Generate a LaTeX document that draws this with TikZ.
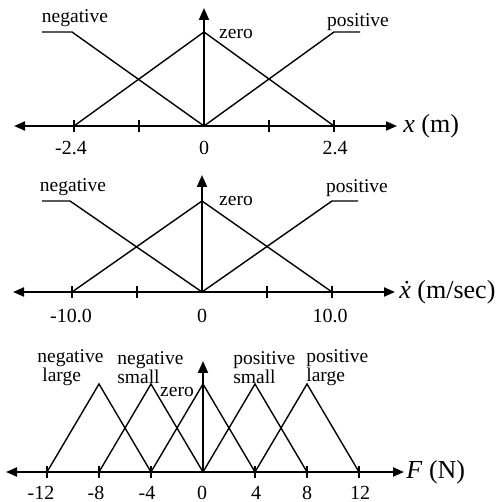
\documentclass[tikz,border=0pt]{standalone}
\usepackage{fontspec}
\setmainfont{Liberation Serif}
\usepackage{tikz}
\usetikzlibrary{arrows.meta}
\tikzset{  mf/.style={line width=0.7pt},
  axisline/.style={line width=1pt,{Triangle[length=5.5pt,width=4.5pt]}-{Triangle[length=5.5pt,width=4.5pt]}},
  upaxis/.style={line width=1pt,-{Triangle[length=6pt,width=5pt]}},
  tickmark/.style={line width=0.7pt},
  setname/.style={inner sep=0pt,font=\fontsize{9.75}{9.5}\selectfont},
  num/.style={inner sep=0pt,font=\fontsize{10}{12}\selectfont},
  axlabel/.style={inner sep=0pt,anchor=west,font=\fontsize{13}{15}\selectfont} }

\begin{document}
\begin{tikzpicture}[x=0.5pt,y=0.5pt]
  \useasboundingbox (0,0) rectangle (501,502);
  \begin{scope}[shift={(204,376)}]
   \draw[axisline] (-190,0) -- (193,0);
   \draw[tickmark] (-130,-6) -- (-130,6) (-65,-6) -- (-65,6) (65,-6) -- (65,6) (130,-6) -- (130,6);
   \draw[upaxis] (0,0) -- (0,118);
   \draw[mf] (-162,94) -- (-132,94) -- (0,0);
   \draw[mf] (-130,0) -- (0,94) -- (130,0);
   \draw[mf] (0,0) -- (130,94) -- (156,94);
   \node[setname] (neg1) at (-129,108) {negative};
   \node[setname] (zero1) at (32,92) {zero};
   \node[setname] (pos1) at (154,104) {positive};
   \node[axlabel] (xlab) at (199,0) {\textit{x} (m)};
   \node[num] (xm) at (-133,-22) {-2.4};
   \node[num] (xz) at (0,-22) {0};
   \node[num] (xp) at (131,-22) {2.4};
  \end{scope}
  \begin{scope}[shift={(202,210)}]
   \draw[axisline] (-189,0) -- (193,0);
   \draw[tickmark] (-130,-6) -- (-130,6) (-65,-6) -- (-65,6) (65,-6) -- (65,6) (130,-6) -- (130,6);
   \draw[upaxis] (0,0) -- (0,117);
   \draw[mf] (-160,91) -- (-132,91) -- (0,0);
   \draw[mf] (-130,0) -- (0,91) -- (130,0);
   \draw[mf] (0,0) -- (130,91) -- (156,91);
   \node[setname] (neg2) at (-129,105) {negative};
   \node[setname] (zero2) at (34,91) {zero};
   \node[setname] (pos2) at (155,104) {positive};
   \node[axlabel] (vlab) at (197,0) {\textit{\.{x}} (m/sec)};
   \node[num] (vm) at (-131,-24) {-10.0};
   \node[num] (vz) at (0,-24) {0};
   \node[num] (vp) at (128,-24) {10.0};
  \end{scope}
  \begin{scope}[shift={(203,30)}]
   \draw[axisline] (-197,0) -- (201,0);
   \draw[tickmark] (-156,-6) -- (-156,6) (-104,-6) -- (-104,6) (-52,-6) -- (-52,6) (52,-6) -- (52,6) (104,-6) -- (104,6) (156,-6) -- (156,6);
   \draw[upaxis] (0,0) -- (0,111);
   \draw[mf] (-156,0) -- (-104,88) -- (-52,0);
   \draw[mf] (-104,0) -- (-52,88) -- (0,0);
   \draw[mf] (-52,0) -- (0,88) -- (52,0);
   \draw[mf] (0,0) -- (52,88) -- (104,0);
   \draw[mf] (52,0) -- (104,88) -- (156,0);
   \node[setname,align=left,anchor=west] (nl) at (-166,104) {negative\\\hspace{2.5pt}large};
   \node[setname,align=left,anchor=west] (ns) at (-86,104) {negative\\small};
   \node[setname] (zero3) at (-26,80) {zero};
   \node[setname,align=left,anchor=west] (ps) at (30,104) {positive\\small};
   \node[setname,align=left,anchor=west] (pl) at (103,104) {positive\\large};
   \node[axlabel] (flab) at (203,0) {\textit{F} (N)};
   \node[num] (f1) at (-162,-21) {-12};
   \node[num] (f2) at (-107,-21) {-8};
   \node[num] (f3) at (-56,-21) {-4};
   \node[num] (f4) at (-1,-21) {0};
   \node[num] (f5) at (53,-21) {4};
   \node[num] (f6) at (104,-21) {8};
   \node[num] (f7) at (157,-21) {12};
  \end{scope}
 \end{tikzpicture}
\end{document}
